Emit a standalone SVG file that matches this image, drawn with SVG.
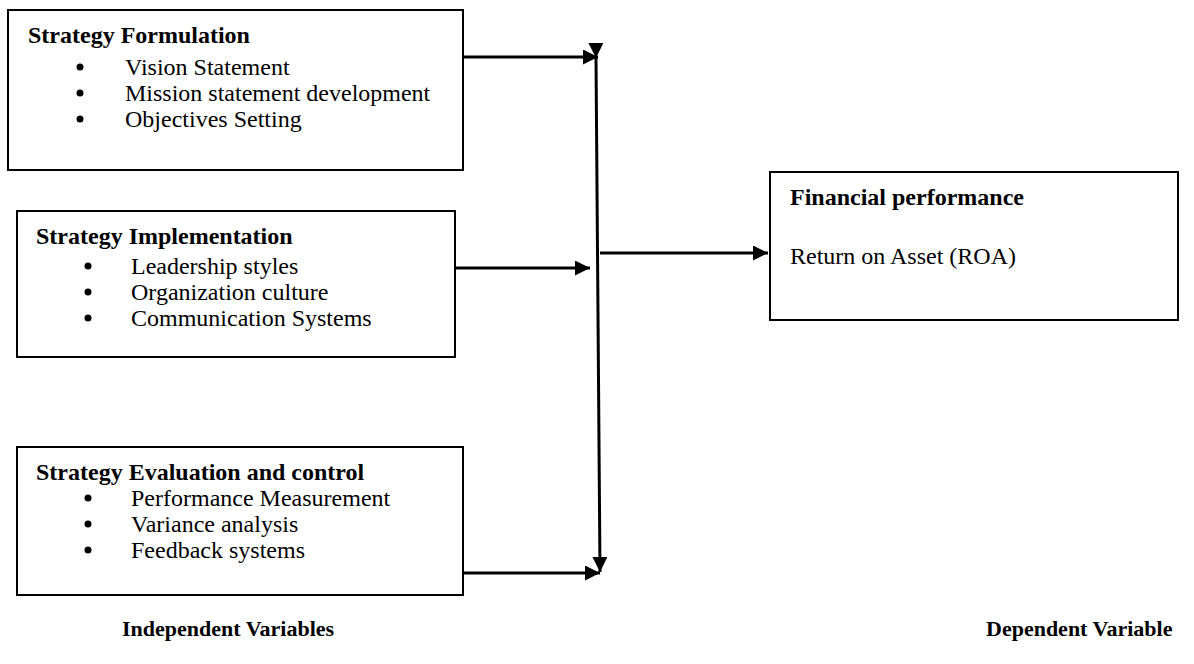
<svg xmlns="http://www.w3.org/2000/svg" width="1194" height="664" viewBox="0 0 1194 664">
<style>
.box{fill:#fff;stroke:#000;stroke-width:2}
.t{font-family:"Liberation Serif","Times New Roman",serif;font-size:24px;fill:#000}
.b{font-weight:bold}
.lbl{font-family:"Liberation Serif","Times New Roman",serif;font-size:22px;font-weight:bold;fill:#000}
.c{stroke:#000;stroke-width:3;fill:none}
</style>
<defs>
<marker id="ah" viewBox="0 0 10 10" refX="10" refY="5" markerWidth="5" markerHeight="5" orient="auto" markerUnits="strokeWidth">
<path d="M0,0 L10,5 L0,10 z" fill="#000"/>
</marker>
</defs>
<rect width="1194" height="664" fill="#fff"/>
<g id="formulation">
<rect class="box" x="8" y="10" width="455" height="160"/>
<text class="t b" x="28" y="43">Strategy Formulation</text>
<circle cx="80" cy="67" r="3.5"/><text class="t" x="125" y="75">Vision Statement</text>
<circle cx="80" cy="93" r="3.5"/><text class="t" x="125" y="101">Mission statement development</text>
<circle cx="80" cy="119" r="3.5"/><text class="t" x="125" y="127">Objectives Setting</text>
</g>
<g id="implementation">
<rect class="box" x="17" y="211" width="438" height="146"/>
<text class="t b" x="36" y="244">Strategy Implementation</text>
<circle cx="88" cy="266" r="3.5"/><text class="t" x="131" y="274">Leadership styles</text>
<circle cx="88" cy="292" r="3.5"/><text class="t" x="131" y="300">Organization culture</text>
<circle cx="88" cy="318" r="3.5"/><text class="t" x="131" y="326">Communication Systems</text>
</g>
<g id="evaluation">
<rect class="box" x="17" y="447" width="446" height="148"/>
<text class="t b" x="36" y="480">Strategy Evaluation and control</text>
<circle cx="88" cy="498" r="3.5"/><text class="t" x="131" y="506">Performance Measurement</text>
<circle cx="88" cy="524" r="3.5"/><text class="t" x="131" y="532">Variance analysis</text>
<circle cx="88" cy="550" r="3.5"/><text class="t" x="131" y="558">Feedback systems</text>
</g>
<g id="financial">
<rect class="box" x="770" y="172" width="408" height="148"/>
<text class="t b" x="790" y="205">Financial performance</text>
<text class="t" x="790" y="264">Return on Asset (ROA)</text>
</g>
<g id="connectors">
<line class="c" x1="463" y1="57" x2="598" y2="57" marker-end="url(#ah)"/>
<line class="c" x1="455" y1="268" x2="590" y2="268" marker-end="url(#ah)"/>
<line class="c" x1="463" y1="573" x2="600" y2="573" marker-end="url(#ah)"/>
<line class="c" x1="596" y1="58" x2="600" y2="572" marker-start="url(#ah)" marker-end="url(#ah)"/>
<line class="c" x1="600" y1="253" x2="768" y2="253" marker-end="url(#ah)"/>
</g>
<g id="labels">
<text class="lbl" x="122" y="636">Independent Variables</text>
<text class="lbl" x="986" y="636">Dependent Variable</text>
</g>
</svg>
